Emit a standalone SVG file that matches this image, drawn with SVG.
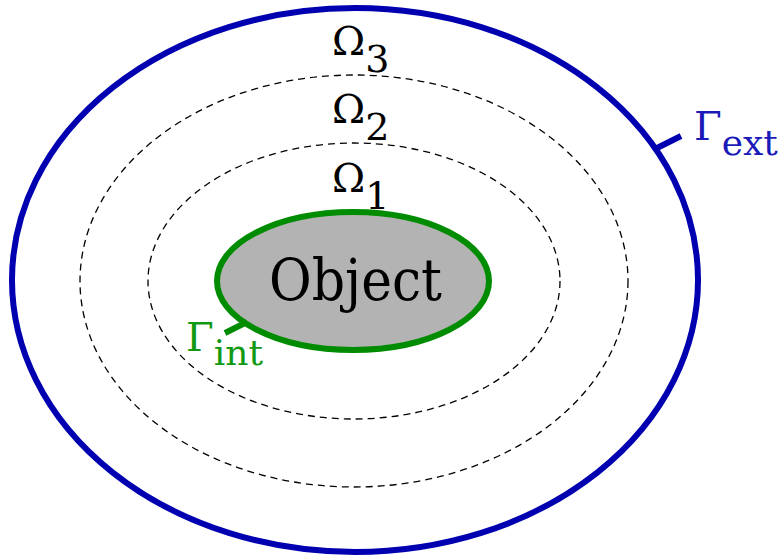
<svg xmlns="http://www.w3.org/2000/svg" width="782" height="560" viewBox="0 0 782 560">
<style>
.dash{fill:none;stroke:#000;stroke-width:1.3;stroke-dasharray:7 5}
text{font-family:"DejaVu Serif","Liberation Serif",serif}
</style>
<rect width="782" height="560" fill="#fff"/>
<g id="exterior">
<ellipse cx="355" cy="280" rx="343" ry="272" fill="none" stroke="#0000b0" stroke-width="6"/>
<line x1="655" y1="149" x2="681" y2="136" stroke="#0000b0" stroke-width="6"/>
<text x="694" y="140" font-size="40" fill="#1a1ab8">Γ<tspan font-size="36" dy="15">ext</tspan></text>
</g>
<g id="omega2">
<ellipse class="dash" cx="354" cy="281" rx="274" ry="206"/>
<text x="332" y="55" font-size="40" fill="#000">Ω<tspan font-size="38" dy="17">3</tspan></text>
</g>
<g id="omega1">
<ellipse class="dash" cx="354" cy="281" rx="206" ry="138"/>
<text x="332" y="123" font-size="40" fill="#000">Ω<tspan font-size="38" dy="17">2</tspan></text>
</g>
<g id="object">
<ellipse cx="353" cy="281" rx="136" ry="69" fill="#b3b3b3" stroke="#008c00" stroke-width="6"/>
<line x1="225" y1="333" x2="247" y2="322" stroke="#008c00" stroke-width="6"/>
<text x="332" y="192" font-size="40" fill="#000">Ω<tspan font-size="38" dy="17">1</tspan></text>
<text x="269" y="300" font-size="58" fill="#000" textLength="173" lengthAdjust="spacingAndGlyphs">Object</text>
<text x="186" y="351" font-size="40" fill="#119911">Γ<tspan font-size="36" dy="14">int</tspan></text>
</g>
</svg>
